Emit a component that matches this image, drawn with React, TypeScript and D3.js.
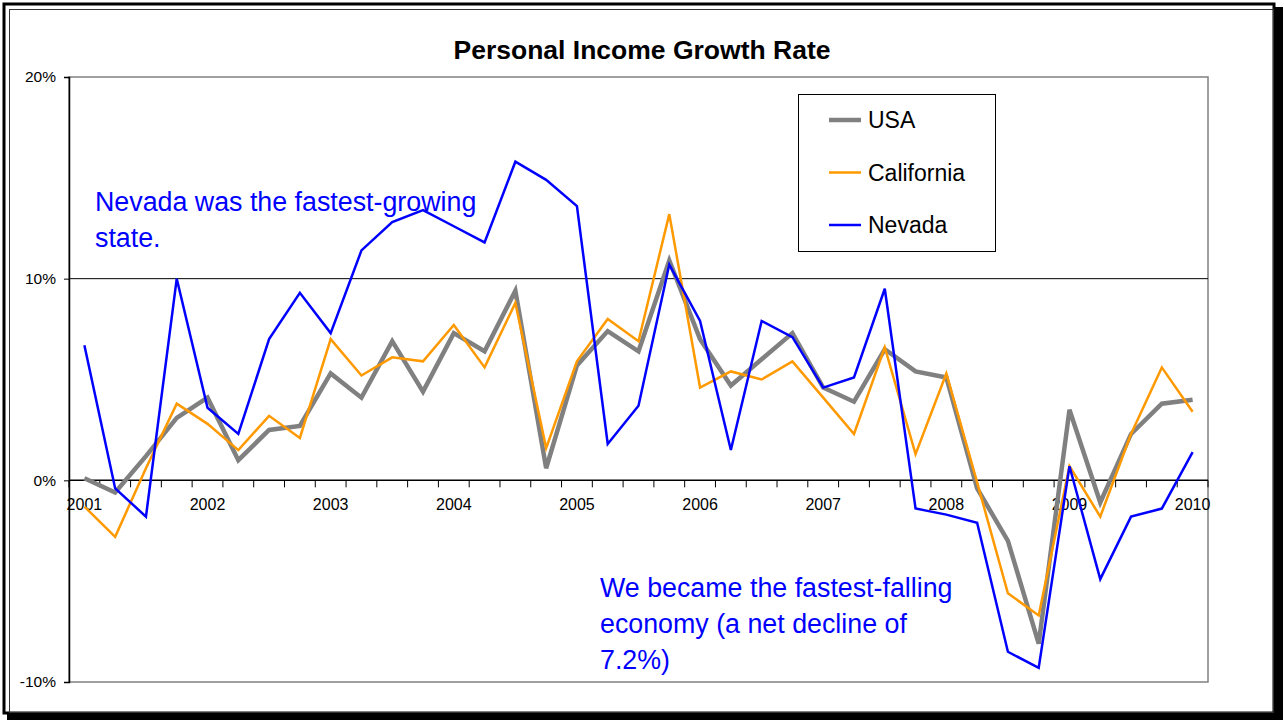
import React, { useEffect, useRef } from "react";
import * as d3 from "d3";

// quarterly growth rate, %
const quarters = [
  "2001Q1", "2001Q2", "2001Q3", "2001Q4",
  "2002Q1", "2002Q2", "2002Q3", "2002Q4",
  "2003Q1", "2003Q2", "2003Q3", "2003Q4",
  "2004Q1", "2004Q2", "2004Q3", "2004Q4",
  "2005Q1", "2005Q2", "2005Q3", "2005Q4",
  "2006Q1", "2006Q2", "2006Q3", "2006Q4",
  "2007Q1", "2007Q2", "2007Q3", "2007Q4",
  "2008Q1", "2008Q2", "2008Q3", "2008Q4",
  "2009Q1", "2009Q2", "2009Q3", "2009Q4",
  "2010Q1",
];
const usa = [
  0.1, -0.6, 1.2, 3.1, 4.1, 1.0, 2.5, 2.7, 5.3, 4.1, 6.9, 4.4, 7.3, 6.4, 9.4, 0.6,
  5.7, 7.4, 6.4, 10.9, 7.0, 4.7, 6.0, 7.3, 4.6, 3.9, 6.5, 5.4, 5.1, -0.4, -3.0, -8.1,
  3.5, -1.1, 2.3, 3.8, 4.0,
];
const california = [
  -1.3, -2.8, 0.6, 3.8, 2.8, 1.5, 3.2, 2.1, 7.0, 5.2, 6.1, 5.9, 7.7, 5.6, 8.8, 1.6,
  5.9, 8.0, 6.9, 13.2, 4.6, 5.4, 5.0, 5.9, 4.1, 2.3, 6.6, 1.3, 5.3, -0.1, -5.6, -6.7,
  0.7, -1.8, 2.3, 5.6, 3.4,
];
const nevada = [
  6.7, -0.4, -1.8, 10.0, 3.6, 2.3, 7.0, 9.3, 7.3, 11.4, 12.8, 13.4, 12.6, 11.8, 15.8, 14.9,
  13.6, 1.8, 3.7, 10.7, 7.9, 1.5, 7.9, 7.1, 4.6, 5.1, 9.5, -1.4, -1.7, -2.1, -8.5, -9.3,
  0.7, -4.9, -1.8, -1.4, 1.4,
];
const yTicks = [20, 10, 0, -10];
const seriesNames = ["USA", "California", "Nevada"];
const noteTop = ["Nevada was the fastest-growing", "state."];
const noteBottom = ["We became the fastest-falling", "economy (a net decline of", "7.2%)"];

const FONT = "'Liberation Sans', Arial, sans-serif";

const App = () => {
  const ref = useRef(null);
  useEffect(() => {
    const WIDTH = 1284;
    const HEIGHT = 720;
    const PLOT = { left: 69, right: 1208, top: 77, bottom: 682 };

    const root = d3.select(ref.current);
    root.selectAll("*").remove();
    const svg = root
      .append("svg")
      .attr("width", WIDTH)
      .attr("height", HEIGHT)
      .style("position", "absolute")
      .style("left", 0)
      .style("top", 0)
      .style("font-family", FONT);

    svg.append("rect").attr("width", WIDTH).attr("height", HEIGHT).attr("fill", "#fff");

    /* chart frame with shadow */
    svg.append("rect").attr("x", 7).attr("y", 7).attr("width", 1276).attr("height", 713).attr("fill", "#000");
    svg.append("rect").attr("x", 4).attr("y", 4).attr("width", 1270).attr("height", 709)
      .attr("fill", "#fff").attr("stroke", "#000").attr("stroke-width", 3);
    svg.append("rect").attr("x", 9.5).attr("y", 9.5).attr("width", 1264).attr("height", 703)
      .attr("fill", "none").attr("stroke", "#333").attr("stroke-width", 1);

    const x = d3.scaleBand().domain(quarters).range([PLOT.left, PLOT.right]).padding(0);
    const y = d3.scaleLinear().domain([-10, 20]).range([PLOT.bottom, PLOT.top]);
    const cx = (i) => x(quarters[i]) + x.bandwidth() / 2;

    /* plot area border */
    svg.append("rect")
      .attr("x", PLOT.left).attr("y", y(20))
      .attr("width", PLOT.right - PLOT.left).attr("height", y(-10) - y(20))
      .attr("fill", "none").attr("stroke", "#808080").attr("stroke-width", 1.5);

    /* gridline at 10% */
    svg.append("line")
      .attr("x1", PLOT.left).attr("x2", PLOT.right)
      .attr("y1", y(10)).attr("y2", y(10))
      .attr("stroke", "#000").attr("stroke-width", 1);

    /* y axis */
    const yAxis = svg.append("g")
      .attr("transform", `translate(${PLOT.left},0)`)
      .call(d3.axisLeft(y).tickValues(yTicks).tickSize(5).tickPadding(8).tickFormat((d) => d + "%"));
    yAxis.select(".domain").attr("stroke", "#000").attr("stroke-width", 1.5);
    yAxis.selectAll("line").attr("stroke", "#000");
    yAxis.selectAll("text").attr("font-size", 15.5).attr("font-family", FONT).attr("fill", "#000");

    /* x axis at 0% with ticks between quarters */
    svg.append("line")
      .attr("x1", PLOT.left).attr("x2", PLOT.right)
      .attr("y1", y(0)).attr("y2", y(0))
      .attr("stroke", "#000").attr("stroke-width", 1.5);
    const edges = quarters.map((q) => x(q)).concat([PLOT.right]);
    svg.append("g").selectAll("line").data(edges).join("line")
      .attr("x1", (d) => d).attr("x2", (d) => d)
      .attr("y1", y(0)).attr("y2", y(0) + 7)
      .attr("stroke", "#000").attr("stroke-width", 1);
    svg.append("g").selectAll("text")
      .data(quarters.filter((q) => q.endsWith("Q1")))
      .join("text")
      .attr("x", (d) => x(d) + x.bandwidth() / 2)
      .attr("y", y(0) + 30)
      .attr("text-anchor", "middle")
      .attr("font-size", 16)
      .text((d) => d.slice(0, 4));

    /* lines */
    const line = d3.line().x((d, i) => cx(i)).y((d) => y(d));
    const series = [
      { name: seriesNames[0], values: usa, color: "#808080", width: 4.5 },
      { name: seriesNames[1], values: california, color: "#FF9900", width: 2.5 },
      { name: seriesNames[2], values: nevada, color: "#0000FF", width: 2.5 },
    ];
    series.forEach((s) => {
      svg.append("path")
        .datum(s.values)
        .attr("fill", "none")
        .attr("stroke", s.color)
        .attr("stroke-width", s.width)
        .attr("stroke-linejoin", "miter")
        .attr("d", line);
    });

    /* title */
    svg.append("text")
      .attr("x", 642).attr("y", 59)
      .attr("text-anchor", "middle")
      .attr("font-size", 26.5)
      .attr("font-weight", "bold")
      .text("Personal Income Growth Rate");

    /* legend */
    const legend = svg.append("g").attr("transform", "translate(798,94)");
    legend.append("rect").attr("x", 0.5).attr("y", 0.5).attr("width", 197).attr("height", 157)
      .attr("fill", "#fff").attr("stroke", "#000").attr("stroke-width", 1);
    series.forEach((s, i) => {
      const ly = 26 + i * 52.5;
      legend.append("line")
        .attr("x1", 31).attr("x2", 63).attr("y1", ly).attr("y2", ly)
        .attr("stroke", s.color).attr("stroke-width", s.width);
      legend.append("text")
        .attr("x", 70).attr("y", ly + 8)
        .attr("font-size", 23)
        .text(s.name);
    });

    /* annotations */
    const note = (lines, x0, y0) => {
      svg.append("g").selectAll("text").data(lines).join("text")
        .attr("x", x0).attr("y", (d, i) => y0 + i * 36)
        .attr("font-size", 26.8)
        .attr("fill", "#0000FF")
        .text((d) => d);
    };
    note(noteTop, 95, 210.5);
    note(noteBottom, 600, 596.5);
  }, []);

  return <div ref={ref} />;
};

export default App;
